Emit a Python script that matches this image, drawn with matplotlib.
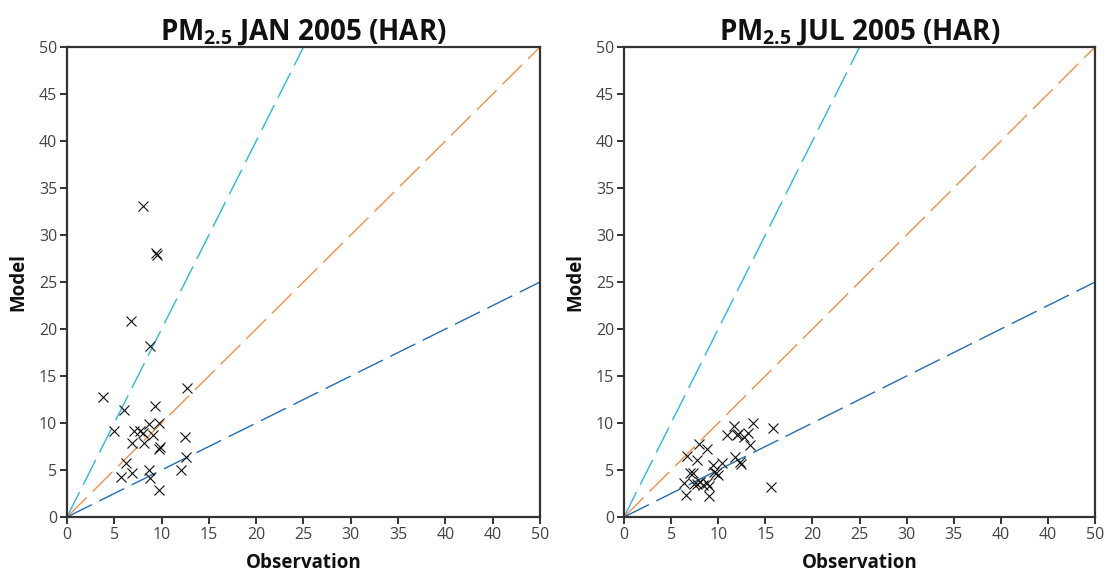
import matplotlib
matplotlib.use("Agg")
import matplotlib.pyplot as plt
import numpy as np

plt.rcParams['font.family'] = ['Open Sans', 'DejaVu Sans']

# January 2005 (HAR) observation / model pairs
jan_obs = [3.8, 6.0, 9.3, 5.0, 8.7, 9.7, 7.1, 8.0, 7.7, 9.05, 6.9, 8.1, 9.7, 9.85,
           12.5, 12.6, 12.1, 6.2, 6.9, 5.7, 8.7, 8.8, 9.7, 12.7, 8.0, 9.5, 9.4, 6.8, 8.8]
jan_mod = [12.8, 11.4, 11.8, 9.2, 9.9, 10.0, 9.1, 8.9, 9.1, 8.7, 7.9, 7.9, 7.2, 7.4,
           8.5, 6.4, 5.0, 5.7, 4.7, 4.3, 5.0, 4.2, 2.9, 13.7, 33.1, 27.9, 28.1, 20.9, 18.2]

# July 2005 (HAR) observation / model pairs
jul_obs = [6.4, 6.55, 6.66, 7.0, 7.3, 7.4, 7.8, 8.1, 8.4, 8.8, 9.06, 9.06, 7.78, 7.93,
           8.78, 9.41, 9.8, 10.0, 10.45, 10.97, 11.7, 11.96, 12.1, 12.7, 13.2, 13.66,
           13.37, 11.75, 12.3, 12.4, 15.56, 15.8, 9.5]
jul_mod = [3.6, 2.3, 6.5, 4.7, 4.7, 3.5, 3.5, 3.7, 3.45, 3.65, 3.3, 2.2, 6.1, 7.75,
           7.2, 5.5, 4.65, 4.45, 5.75, 8.7, 9.7, 8.75, 8.8, 8.5, 8.9, 10.0,
           7.7, 6.4, 5.9, 5.65, 3.2, 9.5, 4.8]

ref_slopes = [2.0, 1.0, 0.5]
ref_colors = ['#2bb5ee', '#f39048', '#1f6db5']

x_ticks = [0, 5, 10, 15, 20, 25, 30, 35, 40, 45, 50]
x_tick_labels = ['0', '5', '10', '15', '20', '25', '30', '35', '40', '40', '50']
y_ticks = [0, 5, 10, 15, 20, 25, 30, 35, 40, 45, 50]
y_tick_labels = [str(v) for v in y_ticks]

titles = ['PM$_{\\mathregular{2.5}}$ JAN 2005 (HAR)', 'PM$_{\\mathregular{2.5}}$ JUL 2005 (HAR)']

fig = plt.figure(figsize=(11.07, 5.73), dpi=100)
axes_pos = [[0.0605, 0.0977, 0.4273, 0.8202], [0.5637, 0.0977, 0.4255, 0.8202]]

for pos, title, xs, ys in zip(axes_pos, titles, [jan_obs, jul_obs], [jan_mod, jul_mod]):
    ax = fig.add_axes(pos)
    xl = np.array([0, 50.0])
    for s, c in zip(ref_slopes, ref_colors):
        ax.plot(xl, s * xl, color=c, lw=1.0, dashes=(20, 6), zorder=1)
    ax.plot(xs, ys, linestyle='none', marker='x', color='#111111', ms=6.5, mew=0.8, zorder=3)
    ax.set_xlim(0, 50)
    ax.set_ylim(0, 50)
    ax.set_xticks(x_ticks)
    ax.set_xticklabels(x_tick_labels)
    ax.set_yticks(y_ticks)
    ax.set_yticklabels(y_tick_labels)
    for sp in ax.spines.values():
        sp.set_color('#333333')
        sp.set_linewidth(1.6)
    ax.tick_params(axis='both', direction='out', length=5, width=1.4, color='#333333',
                   labelsize=11.5, labelcolor='#444444', pad=2)
    ax.set_title(title, fontsize=20, fontweight='bold', color='#111111', pad=3)
    ax.set_xlabel('Observation', fontsize=13.5, fontweight='bold', color='#111111', labelpad=7.5)
    ax.set_ylabel('Model', fontsize=13.5, fontweight='bold', color='#111111', labelpad=8)

fig.savefig('out.png', dpi=100, facecolor='white')
